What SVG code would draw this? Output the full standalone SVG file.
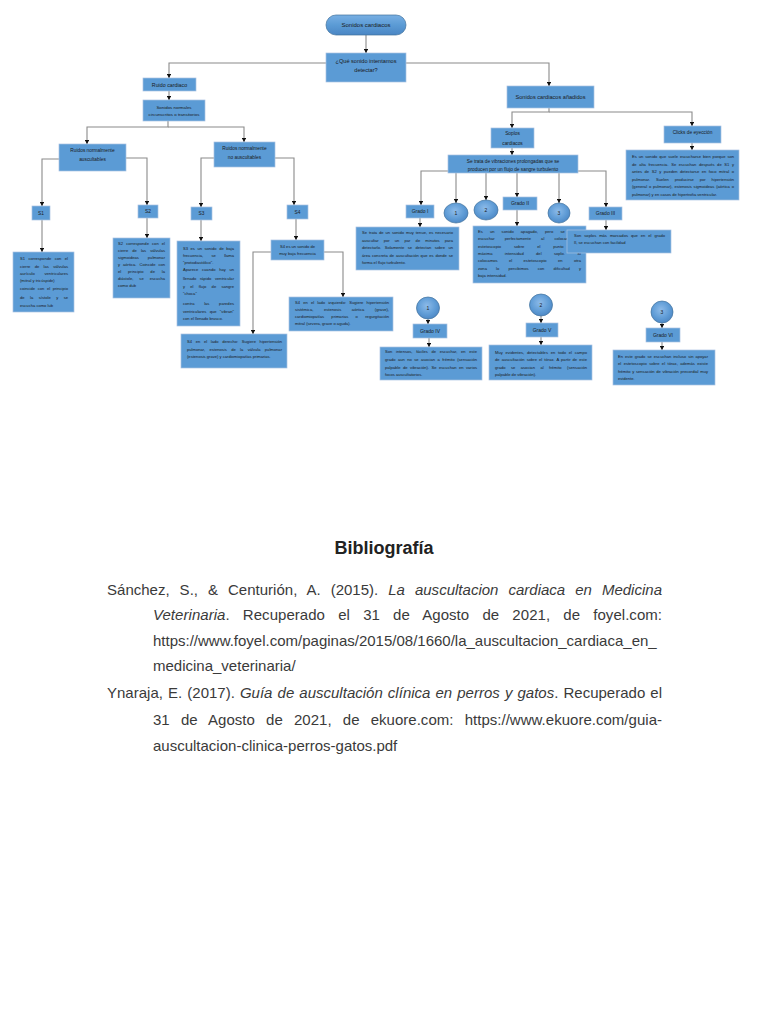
<svg xmlns="http://www.w3.org/2000/svg" width="768" height="1024" viewBox="0 0 768 1024">
<defs>
<style>
text{font-family:"Liberation Sans",Arial,sans-serif;fill:#1a1a1a}
.b{fill:#5b9bd5;stroke:#a9c2e2;stroke-width:0.7}
.h{font-size:4.8px;text-anchor:middle}
.h5{font-size:5.6px;text-anchor:middle}
.d{font-size:4.1px}
.c{stroke:#8a8a8a;stroke-width:1.1;fill:none;marker-end:url(#ah)}
.ov{fill:url(#rg);stroke:#41719c;stroke-width:0.7}
.n{font-size:5px;text-anchor:middle}
.bib{font-size:15px;fill:#3a3a3a}
</style>
<marker id="ah" markerUnits="userSpaceOnUse" markerWidth="4.4" markerHeight="4.4" refX="4.2" refY="2.2" orient="auto" viewBox="0 0 4.4 4.4">
<path d="M0,0 L4.4,2.2 L0,4.4 z" fill="#111"/>
</marker>
<radialGradient id="rg" cx="0.45" cy="0.4" r="0.65">
<stop offset="0" stop-color="#8dbbe9"/>
<stop offset="0.6" stop-color="#5f9cd6"/>
<stop offset="1" stop-color="#4a84c2"/>
</radialGradient>
<linearGradient id="lg" x1="0" y1="0" x2="0" y2="1">
<stop offset="0" stop-color="#78afe3"/>
<stop offset="0.5" stop-color="#5b9bd5"/>
<stop offset="1" stop-color="#4a86c4"/>
</linearGradient>
</defs>
<rect width="768" height="1024" fill="#fff"/>

<g id="connectors">
<path class="c" d="M366,35 V53"/>
<path class="c" d="M326,63 H169 V78"/>
<path class="c" d="M406,63 H549 V86"/>
<path class="c" d="M169,91 V100"/>
<path class="c" d="M168,121 V127 H87 V144"/>
<path class="c" d="M168,127 H244 V142"/>
<path class="c" d="M59,159 H42 V206"/>
<path class="c" d="M126,158 H147 V205"/>
<path class="c" d="M214,158 H201 V207"/>
<path class="c" d="M275,158 H294 V205"/>
<path class="c" d="M42,220 V252"/>
<path class="c" d="M147,218 V238"/>
<path class="c" d="M201,220 V241"/>
<path class="c" d="M296,219 V240"/>
<path class="c" d="M271,252 H253 V334"/>
<path class="c" d="M324,252 H343 V297"/>
<path class="c" d="M549,108 V112 H512 V128"/>
<path class="c" d="M549,112 H692 V126"/>
<path class="c" d="M512,148 V155"/>
<path class="c" d="M692,143 V150"/>
<path class="c" d="M448,171 H421 V205"/>
<path class="c" d="M578,171 H606 V207"/>
<path class="c" d="M456,173 V203"/>
<path class="c" d="M486,173 V200"/>
<path class="c" d="M517,173 V197"/>
<path class="c" d="M559,173 V203"/>
<path class="c" d="M420,218 V227"/>
<path class="c" d="M517,210 V226"/>
<path class="c" d="M606,220 V230"/>
<path class="c" d="M428,319 V324"/>
<path class="c" d="M541,316 V323"/>
<path class="c" d="M662,323 V328"/>
<path class="c" d="M429,338 V347"/>
<path class="c" d="M541,337 V345"/>
<path class="c" d="M662,342 V350"/>
</g>

<g id="n-sonidos"><rect x="326" y="15" width="80" height="20" rx="10" fill="url(#lg)" stroke="#41719c" stroke-width="0.7"/><text class="h5" x="366" y="27" style="font-size:6px">Sonidos cardiacos</text></g>
<g id="n-pregunta"><rect class="b" x="326" y="53" width="80" height="29"/><text class="h5" x="366" y="62.5">¿Qué sonido intentamos</text><text class="h5" x="366" y="72">detectar?</text></g>
<g id="n-ruido"><rect class="b" x="143" y="78" width="53" height="13"/><text class="h5" x="169.5" y="86.5" style="font-size:5.3px">Ruido cardiaco</text></g>
<g id="n-normales"><rect class="b" x="143" y="100" width="62" height="21"/><text class="h" x="174" y="108.5" style="font-size:4.4px">Sonidos normales</text><text class="h" x="174" y="115.5" style="font-size:4.4px">circunscritos o transitorios</text></g>
<g id="n-ausc"><rect class="b" x="59" y="144" width="67" height="27"/><text class="h" x="92.5" y="151.5">Ruidos normalmente</text><text class="h" x="92.5" y="160.5">auscultables</text></g>
<g id="n-noausc"><rect class="b" x="214" y="142" width="61" height="25"/><text class="h" x="244.5" y="149.5">Ruidos normalmente</text><text class="h" x="244.5" y="158.5">no auscultables</text></g>
<g id="n-s1"><rect class="b" x="32" y="206" width="18" height="14"/><text class="h" x="41" y="214.7">S1</text></g>
<g id="n-s2"><rect class="b" x="138" y="205" width="20" height="13"/><text class="h" x="148" y="213.2">S2</text></g>
<g id="n-s3"><rect class="b" x="191" y="207" width="21" height="13"/><text class="h" x="201.5" y="215.2">S3</text></g>
<g id="n-s4"><rect class="b" x="287" y="205" width="21" height="14"/><text class="h" x="297.5" y="213.7">S4</text></g>

<g id="n-s1t"><rect class="b" x="13" y="252" width="61" height="60"/>
<text class="d" x="20" y="259.5" textLength="48" lengthAdjust="spacing" word-spacing="2.4">S1 corresponde con el</text>
<text class="d" x="20" y="267.5" textLength="48" lengthAdjust="spacing" word-spacing="3.2">cierre de las válvulas</text>
<text class="d" x="20" y="274.5" textLength="48" lengthAdjust="spacing" word-spacing="8.5">aurículo ventriculares</text>
<text class="d" x="20" y="281.5">(mitral y tricúspide)</text>
<text class="d" x="20" y="289.5" textLength="48" lengthAdjust="spacing" word-spacing="1.5">coincide con el principio</text>
<text class="d" x="20" y="298.5" textLength="48" lengthAdjust="spacing" word-spacing="4.3">de la sístole y se</text>
<text class="d" x="20" y="306.5">escucha como lub</text></g>

<g id="n-s2t"><rect class="b" x="113" y="238" width="57" height="60"/>
<text class="d" x="118" y="244.5" textLength="47" lengthAdjust="spacing" word-spacing="2">S2 corresponde con el</text>
<text class="d" x="118" y="251.5" textLength="47" lengthAdjust="spacing" word-spacing="2.9">cierre de las válvulas</text>
<text class="d" x="118" y="258.5" textLength="47" lengthAdjust="spacing" word-spacing="7.8">sigmoideas pulmonar</text>
<text class="d" x="118" y="265.5" textLength="47" lengthAdjust="spacing" word-spacing="1.8">y aórtica. Coincide con</text>
<text class="d" x="118" y="272.5" textLength="47" lengthAdjust="spacing" word-spacing="5.7">el principio de la</text>
<text class="d" x="118" y="279.5" textLength="47" lengthAdjust="spacing" word-spacing="4.9">diástole, se escucha</text>
<text class="d" x="118" y="286.5">como dub</text></g>

<g id="n-s3t"><rect class="b" x="177" y="241" width="63" height="85"/>
<text class="d" x="183" y="249.5" textLength="51" lengthAdjust="spacing" word-spacing="1.4">S3 es un sonido de baja</text>
<text class="d" x="183" y="256.5" textLength="51" lengthAdjust="spacing" word-spacing="7.2">frecuencia, se llama</text>
<text class="d" x="183" y="263.5">"protodiastólico".</text>
<text class="d" x="183" y="270.5" textLength="51" lengthAdjust="spacing" word-spacing="2.5">Aparece cuando hay un</text>
<text class="d" x="183" y="279.5" textLength="51" lengthAdjust="spacing" word-spacing="2.5">llenado rápido ventricular</text>
<text class="d" x="183" y="287.5" textLength="51" lengthAdjust="spacing" word-spacing="4.1">y el flujo de sangre</text>
<text class="d" x="183" y="294.5">"choca"</text>
<text class="d" x="183" y="304.5" textLength="51" lengthAdjust="spacing" word-spacing="8.5">contra las paredes</text>
<text class="d" x="183" y="312.5" textLength="51" lengthAdjust="spacing" word-spacing="2.2">ventriculares que "vibran"</text>
<text class="d" x="183" y="319.5">con el llenado brusco.</text></g>

<g id="n-s4t"><rect class="b" x="271" y="240" width="53" height="20"/>
<text class="d" x="297.5" y="247.5" text-anchor="middle">S4 es un sonido de</text>
<text class="d" x="297.5" y="254.5" text-anchor="middle">muy baja frecuencia</text></g>

<g id="n-s4izq"><rect class="b" x="289" y="297" width="104" height="34"/>
<text class="d" x="295" y="304.4" textLength="94" lengthAdjust="spacing" word-spacing="2">S4 en el lado izquierdo: Sugiere hipertensión</text>
<text class="d" x="295" y="311.4" textLength="94" lengthAdjust="spacing" word-spacing="9.4">sistémica, estenosis aórtica (grave),</text>
<text class="d" x="295" y="318.4" textLength="94" lengthAdjust="spacing" word-spacing="6.2">cardiomiopatías primarias o regurgitación</text>
<text class="d" x="295" y="325.4">mitral (severa, grave o aguda).</text></g>

<g id="n-s4der"><rect class="b" x="181" y="334" width="106" height="34"/>
<text class="d" x="187" y="343.4" textLength="95" lengthAdjust="spacing" word-spacing="2.5">S4 en el lado derecho: Sugiere hipertensión</text>
<text class="d" x="187" y="350.9" textLength="95" lengthAdjust="spacing" word-spacing="3.2">pulmonar, estenosis de la válvula pulmonar</text>
<text class="d" x="187" y="358.4">(estenosis grave) y cardiomiopatías primarias.</text></g>

<g id="n-anadidos"><rect class="b" x="507" y="86" width="87" height="22"/><text class="h5" x="550.5" y="99">Sonidos cardiacos añadidos</text></g>
<g id="n-soplos"><rect class="b" x="491" y="128" width="43" height="20"/><text class="h" x="512.5" y="134.5">Soplos</text><text class="h" x="512.5" y="144.5">cardiacos</text></g>
<g id="n-clicks"><rect class="b" x="664" y="126" width="57" height="17"/><text class="h" x="692.5" y="133.5">Clicks de eyección</text></g>
<g id="n-clickst"><rect class="b" x="626" y="150" width="113" height="50"/>
<text class="d" x="632" y="158.4" textLength="102" lengthAdjust="spacing" word-spacing="0.8">Es un sonido que suele escucharse bien porque son</text>
<text class="d" x="632" y="165.9" textLength="102" lengthAdjust="spacing" word-spacing="1.5">de alta frecuencia. Se escuchan después de S1 y</text>
<text class="d" x="632" y="173.4" textLength="102" lengthAdjust="spacing" word-spacing="1.4">antes de S2 y pueden detectarse en foco mitral o</text>
<text class="d" x="632" y="180.9" textLength="102" lengthAdjust="spacing" word-spacing="4.7">pulmonar. Suelen producirse por hipertensión</text>
<text class="d" x="632" y="188.4" textLength="102" lengthAdjust="spacing" word-spacing="0.7">(general o pulmonar), estenosis sigmoideas (aórtica o</text>
<text class="d" x="632" y="195.9">pulmonar) y en casos de hipertrofia ventricular.</text></g>

<g id="n-setrata"><rect class="b" x="448" y="155" width="130" height="18"/>
<text class="h" x="513" y="162.5">Se trata de vibraciones prolongadas que se</text>
<text class="h" x="513" y="170.5">producen por un flujo de sangre turbulento</text></g>

<g id="n-g1"><rect class="b" x="406" y="205" width="28" height="13"/><text class="n" x="420" y="213.2">Grado I</text></g>
<g id="n-c1"><ellipse class="ov" cx="456" cy="213" rx="12" ry="10"/><text class="n" x="456" y="214.8">1</text></g>
<g id="n-c2"><ellipse class="ov" cx="486" cy="210" rx="12" ry="10"/><text class="n" x="486" y="211.8">2</text></g>
<g id="n-g2"><rect class="b" x="503" y="197" width="34" height="13"/><text class="n" x="520" y="205.2">Grado II</text></g>
<g id="n-c3"><ellipse class="ov" cx="559" cy="213" rx="11" ry="10"/><text class="n" x="559" y="214.8">3</text></g>
<g id="n-g3"><rect class="b" x="589" y="207" width="33" height="13"/><text class="n" x="605.5" y="215.2">Grado III</text></g>

<g id="n-g1t"><rect class="b" x="356" y="227" width="103" height="43"/>
<text class="d" x="362" y="234.4" textLength="91" lengthAdjust="spacing" word-spacing="0.8">Se trata de un sonido muy tenue, es necesario</text>
<text class="d" x="362" y="242.4" textLength="91" lengthAdjust="spacing" word-spacing="4">auscultar por un par de minutos para</text>
<text class="d" x="362" y="249.4" textLength="91" lengthAdjust="spacing" word-spacing="2.3">detectarlo. Solamente se detectan sobre un</text>
<text class="d" x="362" y="257.4" textLength="91" lengthAdjust="spacing" word-spacing="0.7">área concreta de auscultación que es donde se</text>
<text class="d" x="362" y="264.4">forma el flujo turbulento.</text></g>

<g id="n-g2t"><rect class="b" x="473" y="226" width="113" height="57"/>
<text class="d" x="478" y="233.4" textLength="103" lengthAdjust="spacing" word-spacing="6">Es un sonido apagado, pero se logra</text>
<text class="d" x="478" y="240.4" textLength="103" lengthAdjust="spacing" word-spacing="9">escuchar perfectamente al colocar el</text>
<text class="d" x="478" y="248.4" textLength="103" lengthAdjust="spacing" word-spacing="11.7">estetoscopio sobre el punto de</text>
<text class="d" x="478" y="255.4" textLength="103" lengthAdjust="spacing" word-spacing="11.2">máxima intensidad del soplo. Si</text>
<text class="d" x="478" y="262.4" textLength="103" lengthAdjust="spacing" word-spacing="10.2">colocamos el estetoscopio en otra</text>
<text class="d" x="478" y="270.4" textLength="103" lengthAdjust="spacing" word-spacing="8">zona lo percibimos con dificultad y</text>
<text class="d" x="478" y="277.4">baja intensidad.</text></g>

<g id="n-g3t"><rect class="b" x="567" y="230" width="104" height="23"/>
<text class="d" x="574" y="237.4" textLength="91" lengthAdjust="spacing" word-spacing="1.8">Son soplos más marcados que en el grado</text>
<text class="d" x="574" y="244.4">II, se escuchan con facilidad</text></g>

<g id="n-c1b"><ellipse class="ov" cx="428" cy="308" rx="11.5" ry="11"/><text class="n" x="428" y="309.8">1</text></g>
<g id="n-g4"><rect class="b" x="413" y="324" width="34" height="14"/><text class="n" x="430" y="332.7">Grado IV</text></g>
<g id="n-g4t"><rect class="b" x="380" y="347" width="102" height="33"/>
<text class="d" x="385" y="353.4" textLength="92" lengthAdjust="spacing" word-spacing="2.5">Son intensos, fáciles de escuchar, en este</text>
<text class="d" x="385" y="361.4" textLength="92" lengthAdjust="spacing" word-spacing="1.3">grado aun no se asocian a frémito (sensación</text>
<text class="d" x="385" y="369.4" textLength="92" lengthAdjust="spacing" word-spacing="1.3">palpable de vibración). Se escuchan en varios</text>
<text class="d" x="385" y="376.4">focos auscultatorios.</text></g>

<g id="n-c2b"><ellipse class="ov" cx="541" cy="305" rx="11.5" ry="11"/><text class="n" x="541" y="306.8">2</text></g>
<g id="n-g5"><rect class="b" x="526" y="323" width="32" height="14"/><text class="n" x="542" y="331.7">Grado V</text></g>
<g id="n-g5t"><rect class="b" x="489" y="345" width="103" height="35"/>
<text class="d" x="495" y="354.4" textLength="92" lengthAdjust="spacing" word-spacing="1.6">Muy evidentes, detectables en todo el campo</text>
<text class="d" x="495" y="361.4" textLength="92" lengthAdjust="spacing" word-spacing="0.9">de auscultación sobre el tórax. A partir de este</text>
<text class="d" x="495" y="369.4" textLength="92" lengthAdjust="spacing" word-spacing="4.3">grado se asocian al frémito (sensación</text>
<text class="d" x="495" y="376.4">palpable de vibración).</text></g>

<g id="n-c3b"><ellipse class="ov" cx="662" cy="312" rx="11" ry="11"/><text class="n" x="662" y="313.8">3</text></g>
<g id="n-g6"><rect class="b" x="646" y="328" width="34" height="14"/><text class="n" x="663" y="336.7">Grado VI</text></g>
<g id="n-g6t"><rect class="b" x="613" y="350" width="102" height="35"/>
<text class="d" x="618" y="358.4" textLength="90" lengthAdjust="spacing" word-spacing="0.9">En este grado se escuchan incluso sin apoyar</text>
<text class="d" x="618" y="365.4" textLength="90" lengthAdjust="spacing" word-spacing="1.3">el estetoscopio sobre el tórax, además existe</text>
<text class="d" x="618" y="373.4" textLength="90" lengthAdjust="spacing" word-spacing="0.6">frémito y sensación de vibración precordial muy</text>
<text class="d" x="618" y="380.4">evidente.</text></g>

<g id="bibliografia">
<text x="384" y="554" text-anchor="middle" style="font-size:18px;font-weight:bold;fill:#222">Bibliografía</text>
<text class="bib" x="107" y="595" textLength="555" lengthAdjust="spacing" word-spacing="5.8">Sánchez, S., &amp; Centurión, A. (2015). <tspan font-style="italic">La auscultacion cardiaca en Medicina</tspan></text>
<text class="bib" x="153" y="620" textLength="509" lengthAdjust="spacing" word-spacing="9"><tspan font-style="italic">Veterinaria</tspan>. Recuperado el 31 de Agosto de 2021, de foyel.com:</text>
<text class="bib" x="153" y="646">https://www.foyel.com/paginas/2015/08/1660/la_auscultacion_cardiaca_en_</text>
<text class="bib" x="153" y="671">medicina_veterinaria/</text>
<text class="bib" x="107" y="698" textLength="555" lengthAdjust="spacing" word-spacing="0.9">Ynaraja, E. (2017). <tspan font-style="italic">Guía de auscultación clínica en perros y gatos</tspan>. Recuperado el</text>
<text class="bib" x="153" y="725" textLength="509" lengthAdjust="spacing" word-spacing="7">31 de Agosto de 2021, de ekuore.com: https://www.ekuore.com/guia-</text>
<text class="bib" x="153" y="751">auscultacion-clinica-perros-gatos.pdf</text>
</g>
</svg>
